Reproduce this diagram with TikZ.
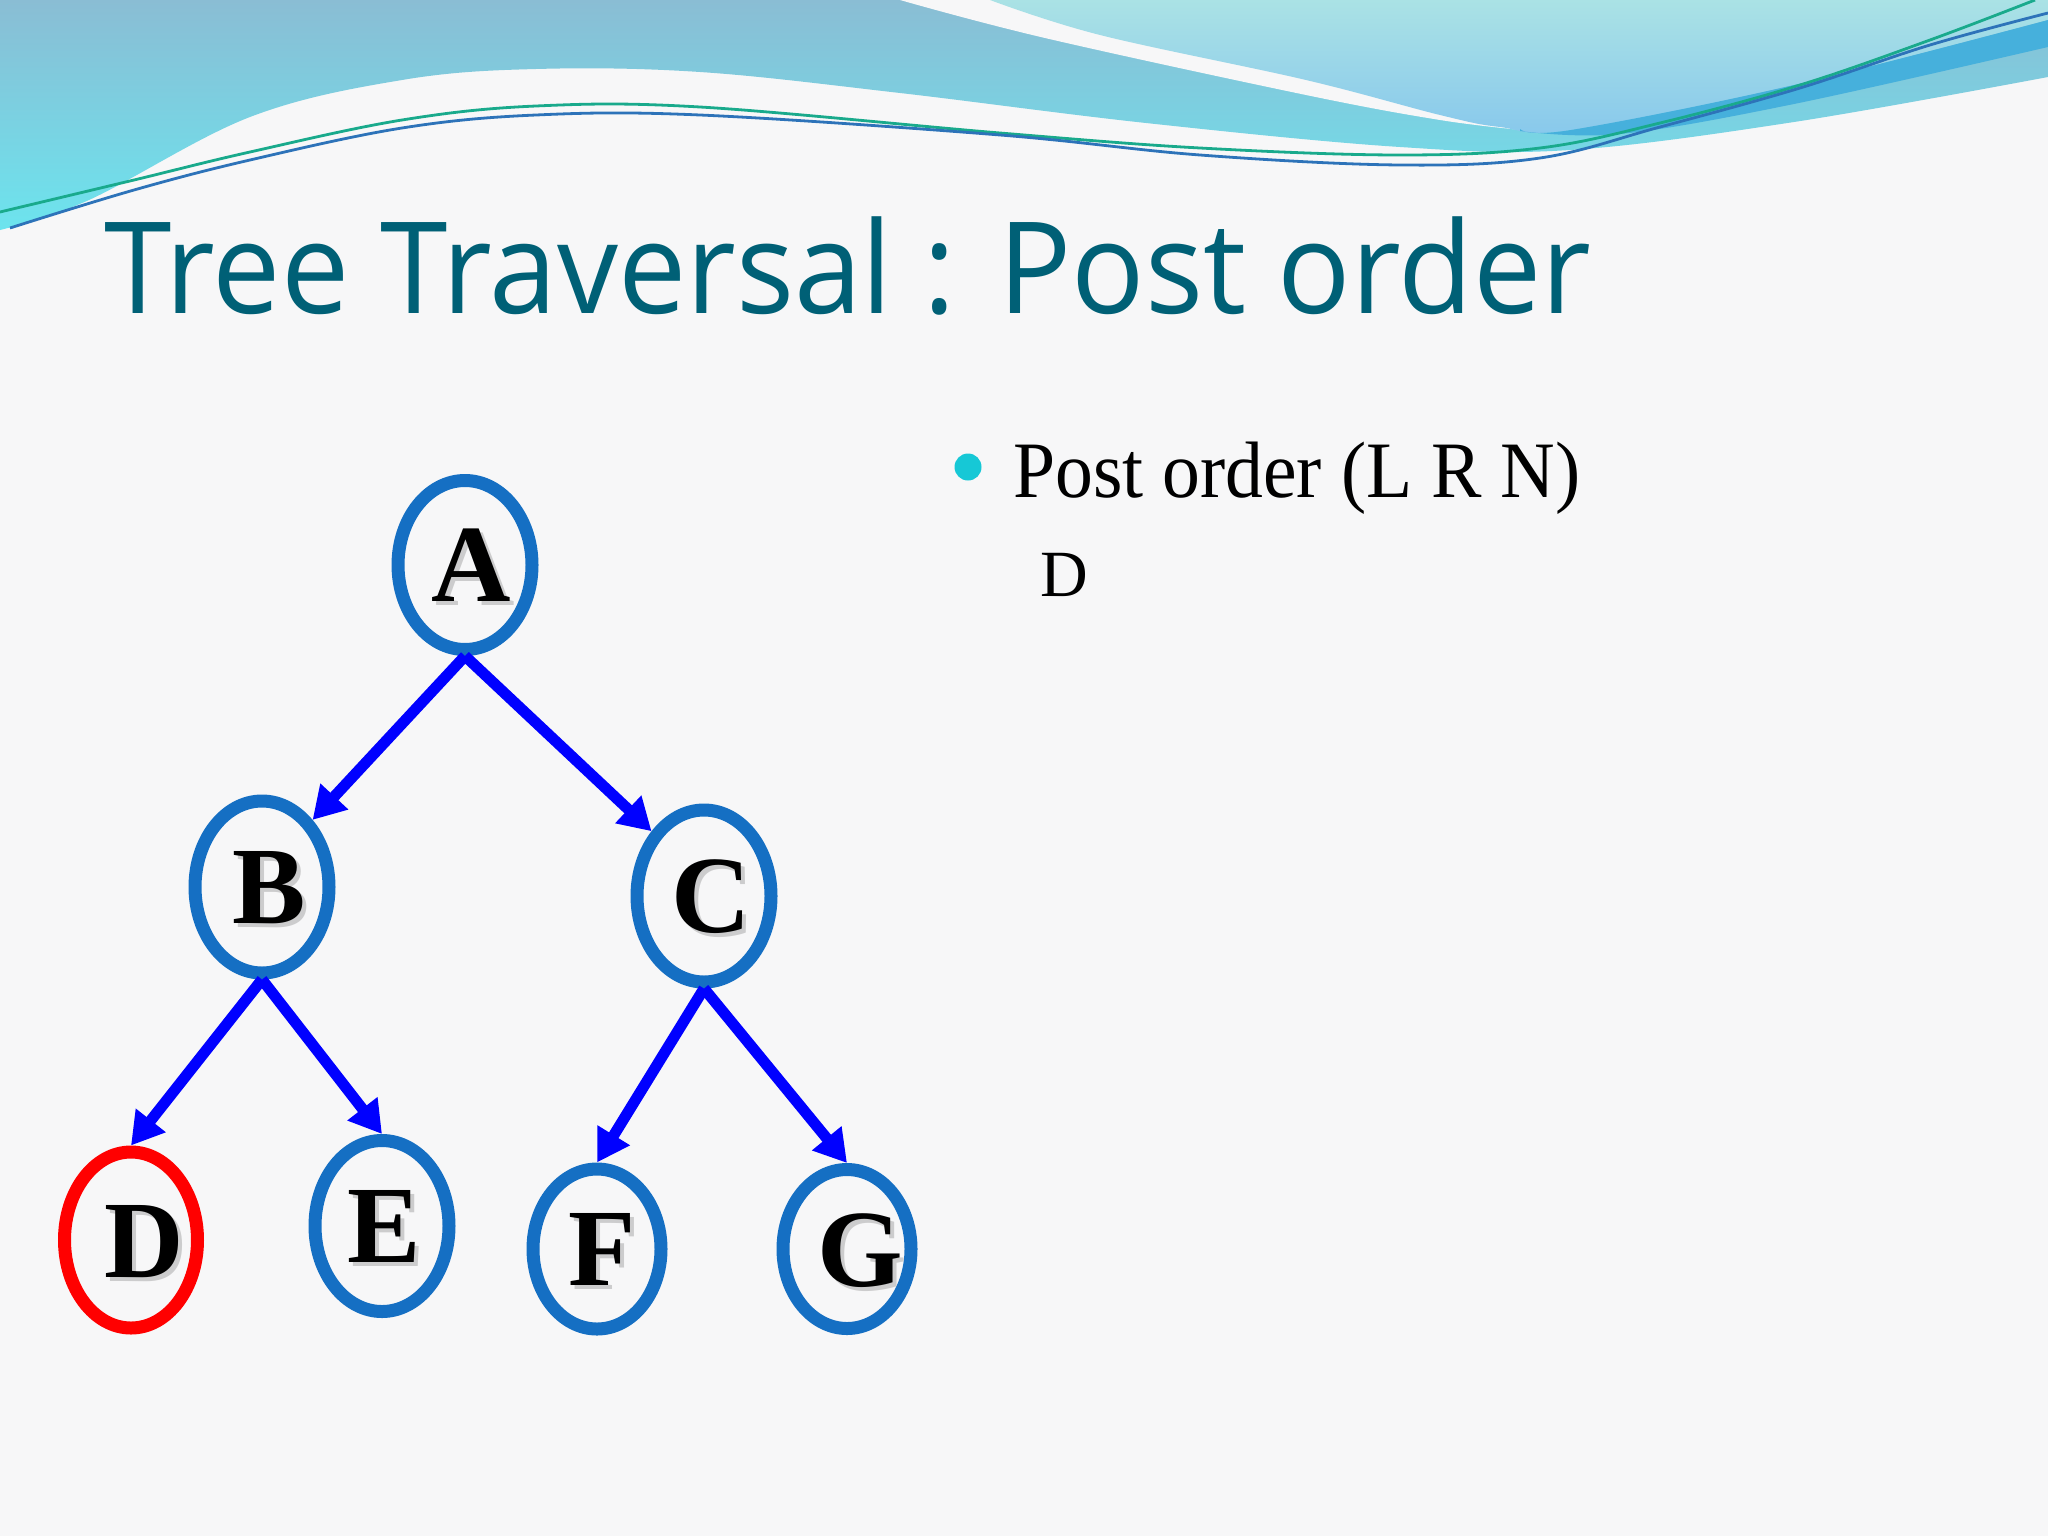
\documentclass[tikz,border=0pt]{standalone}
\usepackage{fontspec}
\setmainfont{Liberation Serif}
\newfontfamily\titlefont{Open Sans}
\usetikzlibrary{shapes.geometric,arrows.meta}
\definecolor{titleteal}{RGB}{0,96,118}
\definecolor{ringblue}{RGB}{21,111,195}
\definecolor{ringred}{RGB}{255,0,0}
\definecolor{arrblue}{RGB}{0,0,255}
\definecolor{bulletcyan}{RGB}{22,200,214}
\definecolor{pagebg}{RGB}{247,247,248}
\definecolor{leftTop}{RGB}{138,189,212}
\definecolor{leftBot}{RGB}{108,228,238}
\definecolor{rightTop}{RGB}{170,226,229}
\definecolor{rightBot}{RGB}{136,200,236}
\definecolor{darkband}{RGB}{70,176,220}
\definecolor{lineGreen}{RGB}{25,170,140}
\definecolor{lineBlue}{RGB}{45,115,185}
\begin{document}
\begin{tikzpicture}[x=0.5pt,y=-0.5pt,
  treenode/.style={ellipse, draw=ringblue, line width=6.5pt, inner sep=0pt},
  letter/.style={anchor=base, inner sep=0pt, font=\fontsize{55}{60}\selectfont\bfseries, text=black},
  lettershadow/.style={anchor=base, inner sep=0pt, font=\fontsize{55}{60}\selectfont\bfseries, text=black!40, opacity=0.45},
  arr/.style={draw=arrblue, line width=5.5pt, -{Triangle[length=16pt,width=18pt]}},
  thinline/.style={line width=1.4pt},
]
\useasboundingbox (0,0) rectangle (2048,1536);
\fill[pagebg] (0,0) rectangle (2048,1536);
% top-left wave region
\shade[top color=leftTop, bottom color=leftBot]
  (0,0) -- (2048,0) -- (2048,77)
  -- plot[smooth, tension=0.6] coordinates {(2048,77) (1794,122) (1570,150) (1400,147) (1146,123) (900,93) (700,72) (536,69) (402,80) (250,117) (89,200) (0,230)}
  -- cycle;
% white stripe
\fill[pagebg]
  plot[smooth, tension=0.6] coordinates {(900,0) (1045,38) (1306,95) (1440,120) (1522,130)}
  -- (1400,90) -- (1100,20) -- (1000,-2) -- cycle;
% top-right aqua region
\shade[top color=rightTop, bottom color=rightBot]
  (990,0) -- (2048,0) -- (2048,20)
  -- plot[smooth, tension=0.6] coordinates {(2048,20) (1794,85) (1571,130) (1500,127) (1440,115) (1306,80) (1100,35) (990,0)}
  -- cycle;
% dark band
\fill[darkband]
  plot[smooth, tension=0.6] coordinates {(1520,129) (1571,130) (1794,85) (2048,20)}
  -- (2048,47)
  -- plot[smooth, tension=0.6] coordinates {(2048,47) (1794,104) (1620,134) (1520,131)}
  -- cycle;
% thin lines
\draw[lineGreen, thinline] plot[smooth, tension=0.6] coordinates {(0,212) (134,180) (250,152) (402,120) (536,106) (700,107) (1000,133) (1200,148) (1400,155) (1540,148) (1660,123) (1800,85) (1930,40) (2035,0)};
\draw[lineBlue, thinline] plot[smooth, tension=0.6] coordinates {(10,228) (134,190) (250,160) (402,128) (536,115) (700,115) (1000,135) (1200,155) (1400,165) (1540,158) (1660,127) (1800,88) (1930,45) (2048,13)};
% title
\node[anchor=base west, inner sep=0pt, text=titleteal] (title) at (104,313)
  {\resizebox{743.5pt}{\height}{\titlefont\fontsize{63.7}{70}\selectfont Tree Traversal : Post order}};
% bullet text
\node[circle, fill=bulletcyan, minimum size=13.5pt, inner sep=0pt] (bullet) at (968,467) {};
\node[anchor=base west, inner sep=0pt] (rule) at (1013,497)
  {\resizebox{283.5pt}{\height}{\fontsize{40}{44}\selectfont Post order (L R N)}};
\node[anchor=base west, inner sep=0pt] (seq) at (1040,596) {\fontsize{33}{36}\selectfont D};
% tree nodes
\node[treenode, minimum width=67pt, minimum height=84.5pt] (A) at (465,565) {};
\node[treenode, minimum width=67pt, minimum height=86pt] (B) at (262,887) {};
\node[treenode, minimum width=67pt, minimum height=86pt] (C) at (704,896) {};
\node[treenode, draw=ringred, minimum width=66.5pt, minimum height=88pt] (D) at (131,1240) {};
\node[treenode, minimum width=67pt, minimum height=85.5pt] (E) at (382,1226) {};
\node[treenode, minimum width=64pt, minimum height=80pt] (F) at (597,1249) {};
\node[treenode, minimum width=64pt, minimum height=79.5pt] (G) at (847,1249) {};
% letters with shadows
\node[lettershadow] (sA) at (475,605) {A};
\node[letter] (lA) at (471,601) {A};
\node[lettershadow] (sB) at (273,927) {B};
\node[letter] (lB) at (269,923) {B};
\node[lettershadow] (sC) at (715,936) {C};
\node[letter] (lC) at (711,932) {C};
\node[lettershadow] (sD) at (148,1281) {D};
\node[letter] (lD) at (144,1277) {D};
\node[lettershadow] (sE) at (388,1266) {E};
\node[letter] (lE) at (384,1262) {E};
\node[lettershadow] (sF) at (606,1289) {F};
\node[letter] (lF) at (602,1285) {F};
\node[lettershadow] (sG) at (864,1290) {G};
\node[letter] (lG) at (860,1286) {G};
% arrows
\draw[arr] (A.south) -- (B.53);
\draw[arr] (A.south) -- (C.129);
\draw[arr] (B.south) -- (D.north);
\draw[arr] (B.south) -- (E.north);
\draw[arr] (C.south) -- (F.north);
\draw[arr] (C.south) -- (G.north);
\end{tikzpicture}
\end{document}
